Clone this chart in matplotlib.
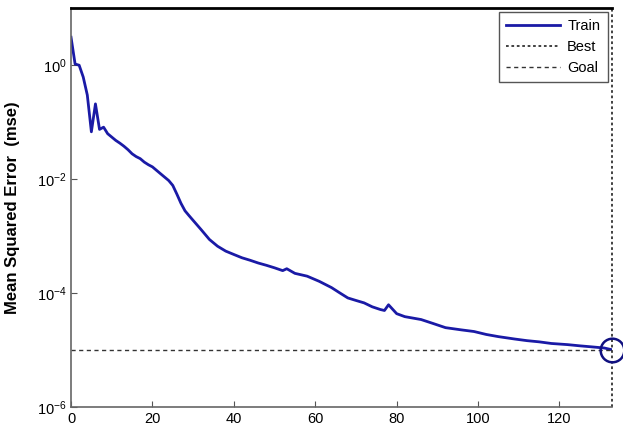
import matplotlib
matplotlib.use("Agg")
import matplotlib.pyplot as plt
from matplotlib.ticker import FixedLocator, NullLocator

plt.rcParams['font.family'] = ['Liberation Sans', 'DejaVu Sans']

epochs = [0, 1, 2, 3, 4, 5, 6, 7, 8, 9, 10, 11, 12, 13, 14, 15, 16, 17, 18, 19, 20,
          22, 24, 25, 26, 27, 28, 29, 30, 32, 34, 36, 38, 40, 42, 44, 46, 48, 50,
          52, 53, 55, 58, 61, 64, 66, 68, 70, 72, 74, 76, 77, 78, 80, 82, 86, 89,
          92, 96, 99, 102, 105, 109, 112, 115, 118, 122, 125, 128, 131, 133]
train_mse = [3.1, 1.05, 1.0, 0.62, 0.3, 0.068, 0.21, 0.075, 0.082, 0.063, 0.055,
             0.048, 0.043, 0.038, 0.033, 0.028, 0.025, 0.023, 0.020, 0.018, 0.0165,
             0.0125, 0.0095, 0.0078, 0.0055, 0.0038, 0.0028, 0.0023, 0.0019, 0.0013,
             0.00088, 0.00067, 0.00055, 0.00048, 0.00042, 0.00038, 0.00034, 0.00031,
             0.00028, 0.00025, 0.00027, 0.000224, 0.0002, 0.000162, 0.000126,
             0.000102, 0.000083, 0.000075, 0.000068, 0.000058, 0.000052, 0.00005,
             0.000063, 0.000044, 0.000039, 0.0000347, 0.0000295, 0.000025,
             0.0000228, 0.0000214, 0.000019, 0.0000174, 0.0000158, 0.0000148,
             0.0000141, 0.0000132, 0.0000126, 0.000012, 0.0000115, 0.0000110,
             0.0000102]
best_epoch = 133
best_mse = 0.0000102
goal_mse = 1e-5
x_ticks = [0, 20, 40, 60, 80, 100, 120]
y_ticks = [1e-6, 1e-4, 1e-2, 1e0]

fig = plt.figure(figsize=(6.23, 4.32), dpi=100)
ax = fig.add_axes([0.114, 0.057, 0.869, 0.924])

line_col = '#1a1aa6'
ax.plot(epochs, train_mse, color=line_col, lw=2.0, label='Train')
ax.axvline(best_epoch, color='#333333', ls=(0, (1.5, 1.5)), lw=1.3, label='Best',
           clip_on=False)
ax.axhline(goal_mse, color='#333333', ls=(0, (3, 2.5)), lw=1.0, label='Goal')
ax.plot([best_epoch], [best_mse], 'o', ms=17, mfc='none', mec='#101080', mew=1.8,
        clip_on=False)

ax.set_yscale('log')
ax.set_xlim(0, best_epoch)
ax.set_ylim(1e-6, 1e1)
ax.xaxis.set_major_locator(FixedLocator(x_ticks))
ax.yaxis.set_major_locator(FixedLocator(y_ticks))
ax.yaxis.set_minor_locator(NullLocator())
ax.tick_params(direction='in', length=4, width=0.8, colors='#555555',
               labelcolor='black', labelsize=10.5)
ax.tick_params(axis='y', pad=3)

for s in ['left', 'bottom']:
    ax.spines[s].set_color('#666666')
    ax.spines[s].set_linewidth(1.2)
ax.spines['top'].set_color('black')
ax.spines['top'].set_linewidth(2.0)
ax.spines['right'].set_visible(False)

ax.set_ylabel('Mean Squared Error  (mse)', fontsize=12, fontweight='bold', labelpad=12)

leg = ax.legend(loc='upper right', bbox_to_anchor=(0.991, 0.99), borderaxespad=0,
                fontsize=10.5, handlelength=3.7, fancybox=False, framealpha=1,
                borderpad=0.5, labelspacing=0.45, handletextpad=0.5)
leg.get_frame().set_edgecolor('#555555')
leg.get_frame().set_linewidth(1.0)

fig.savefig('out.png', dpi=100)
